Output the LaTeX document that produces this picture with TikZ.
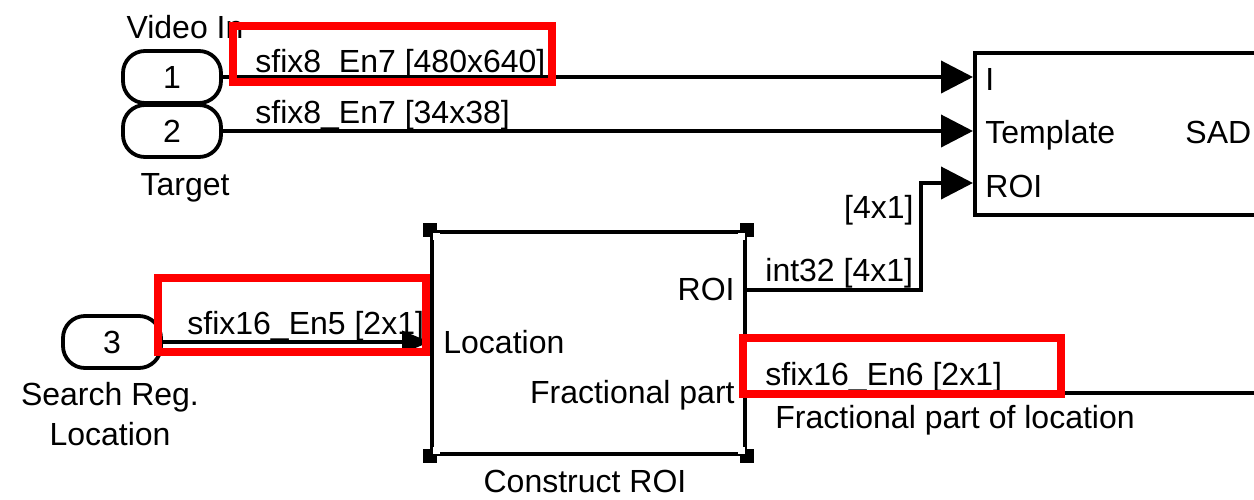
\documentclass[tikz,border=0pt]{standalone}
\usepackage{fontspec}
\setmainfont{Liberation Sans}
\usetikzlibrary{arrows.meta}

\begin{document}
\begin{tikzpicture}[x=0.5pt,y=-0.5pt]
      \tikzstyle{point} = [coordinate]
      \tikzstyle{txt} = [inner sep=0pt, font=\fontsize{16}{19}\selectfont]
      \tikzstyle{inport} = [txt, rectangle, draw, line width=1.9pt, rounded corners=11pt, minimum width=49pt, minimum height=26pt]
      \tikzstyle{box} = [rectangle, draw, line width=2.2pt, inner sep=0pt]
      \tikzstyle{wire} = [line width=2pt, -{Triangle[length=16pt,width=16pt]}]
      \tikzstyle{hilite} = [draw=red, line width=4pt]
      \tikzstyle{handle} = [rectangle, fill=black, minimum size=7pt, inner sep=0pt]
      \useasboundingbox (0,0) rectangle (1254,499);
      \clip (0,0) rectangle (1254,499);
      % inports
      \node (in1) [inport] at (172,77) {1};
      \node (in2) [inport] at (172,131) {2};
      \node (in3) [inport] at (112,342) {3};
      \node (vin) [txt, anchor=base] at (185,38) {Video In};
      \node (tgt) [txt, anchor=base] at (185,195) {Target};
      \node (srl) [txt, anchor=north, align=center] at (110,382) {Search Reg.\\[1pt]Location};
      % SAD block (runs off to the right)
      \node (sad) [box, minimum width=180pt, minimum height=81pt, anchor=north west] at (973,51) {};
      \node (sadIn) [txt, anchor=base west] at (985,90) {I};
      \node (sadTp) [txt, anchor=base west] at (985,143) {Template};
      \node (sadRo) [txt, anchor=base west] at (985,197) {ROI};
      \node (sadOut) [txt, anchor=base west] at (1185,143) {SAD};
      \node (pI) [point] at (973,77) {};
      \node (pT) [point] at (973,131) {};
      \node (pR) [point] at (973,183) {};
      % Construct ROI block
      \node (roi) [box, minimum width=156.5pt, minimum height=111pt, anchor=north west] at (430,230) {};
      \foreach \c/\dx/\dy in {north west/3/3, north east/-3/3, south west/3/-3, south east/-3/-3}{
        \node [handle] at (roi.\c) {};
        \node [handle, fill=white, minimum size=3.5pt] at ([shift={(\dx pt,-\dy pt)}]roi.\c) {};
      }
      \node (roiRo) [txt, anchor=base east] at (735,300) {ROI};
      \node (roiLoc) [txt, anchor=base west] at (443,353) {Location};
      \node (roiFr) [txt, anchor=base east] at (735,403) {Fractional part};
      \node (roiName) [txt, anchor=base] at (585,492) {Construct ROI};
      \node (p1) [point] at (430,342) {};
      \node (p2) [point] at (743,290) {};
      \node (p3) [point] at (921,290) {};
      \node (p4) [point] at (921,183) {};
      \node (p5) [point] at (743,393) {};
      \node (p6) [point] at (1260,393) {};
      % signals
      \draw [wire] (in1)--(pI);
      \draw [wire] (in2)--(pT);
      \draw [wire, -{Triangle[length=14pt,width=11pt]}] (in3)--(p1);
      \draw [wire] (p2)--(p3)--(p4)--(pR);
      \draw [line width=2pt] (p5)--(p6);
      \node (s1) [txt, anchor=base west] at (255,72) {sfix8\_En7 [480x640]};
      \node (s2) [txt, anchor=base west] at (255,123) {sfix8\_En7 [34x38]};
      \node (s3) [txt, anchor=base west] at (187,334) {sfix16\_En5 [2x1]};
      \node (s4) [txt, anchor=base west] at (765,281) {int32 [4x1]};
      \node (s5) [txt, anchor=base east] at (914,218) {[4x1]};
      \node (s6) [txt, anchor=base west] at (765,385) {sfix16\_En6 [2x1]};
      \node (s7) [txt, anchor=base west] at (775,428) {Fractional part of location};
      % highlights
      \draw [hilite] (233,26) rectangle (552,82);
      \draw [hilite] (158,278) rectangle (426,352);
      \draw [hilite] (743,338) rectangle (1061,394);
\end{tikzpicture}
\end{document}
